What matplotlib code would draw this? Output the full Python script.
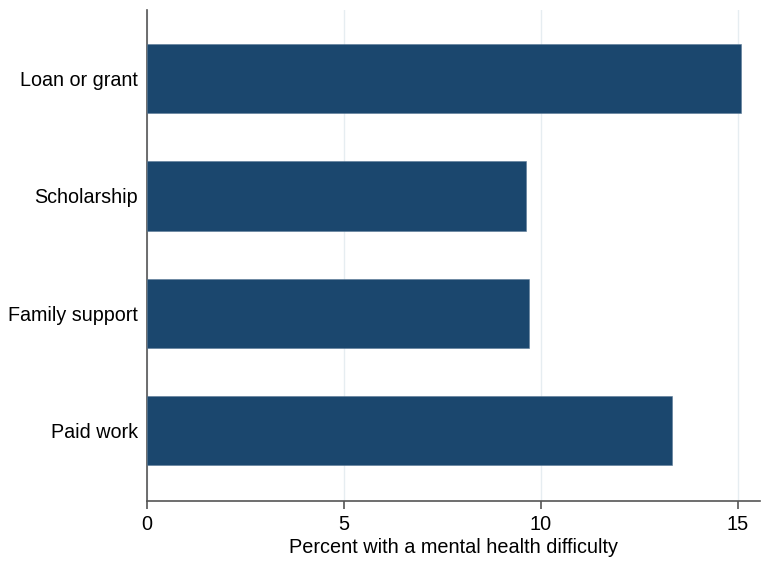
import matplotlib
matplotlib.use("Agg")
import matplotlib.pyplot as plt

categories = ["Loan or grant", "Scholarship", "Family support", "Paid work"]
values = [15.08, 9.62, 9.70, 13.33]
xticks = [0, 5, 10, 15]

plt.rcParams['font.family'] = ['Liberation Sans', 'DejaVu Sans']

fig = plt.figure(figsize=(7.62, 5.61), dpi=100)
ax = fig.add_axes([147/762, 60/561, (760-147)/762, (501-10)/561])

ypos = list(range(len(categories)))[::-1]
ax.barh(ypos, values, height=0.59, color="#1b476e", edgecolor="#5a7a96", linewidth=0.4, zorder=3)

ax.set_xlim(0, 15.56)
ax.set_ylim(-0.6, 3.585)
ax.set_yticks(ypos)
ax.set_yticklabels(categories, fontsize=14.2)
ax.set_xticks(xticks)
ax.set_xticklabels([str(t) for t in xticks], fontsize=14.3)
ax.set_xlabel("Percent with a mental health difficulty", fontsize=14.3, labelpad=3)

ax.grid(axis='x', color="#e6edf1", linewidth=1, zorder=0)
for s in ['top', 'right']:
    ax.spines[s].set_visible(False)
for s in ['left', 'bottom']:
    ax.spines[s].set_color("#555555")
    ax.spines[s].set_linewidth(1.2)
ax.tick_params(axis='y', length=0, pad=6.5)
ax.tick_params(axis='x', length=6, color="#555555", width=1.2, pad=4)

fig.savefig("out.png", dpi=100, facecolor="white")
